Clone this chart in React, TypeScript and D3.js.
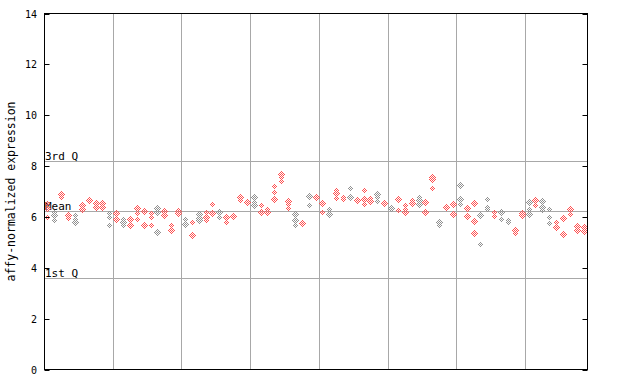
import React from "react";
import * as d3 from "d3";

const samples: number[][] = [
  [6.53, 6.37, 5.98],
  [6.19, 6.08, 6.05, 5.89],
  [6.91, 6.78],
  [6.08, 6.04, 5.96],
  [6.06, 5.93, 5.82],
  [6.45, 6.32],
  [6.69, 6.65],
  [6.54, 6.38],
  [6.54, 6.42, 6.38],
  [6.15, 5.99, 5.69],
  [6.15, 5.93],
  [5.93, 5.82, 5.69],
  [5.92, 5.88, 5.69],
  [6.36, 6.15, 5.93],
  [6.27, 6.23, 5.69],
  [6.15, 5.99, 5.69],
  [6.36, 6.19, 5.39],
  [6.25, 6.06],
  [5.69, 5.54, 5.5],
  [6.25, 6.14, 6.1],
  [5.93, 5.73],
  [5.82, 5.3],
  [6.1, 5.96, 5.86],
  [6.21, 5.99, 5.86],
  [6.49, 6.17],
  [6.21, 5.99],
  [6.01, 5.97, 5.81],
  [6.08, 6.04],
  [6.82, 6.78, 6.65],
  [6.59, 6.55],
  [6.8, 6.57, 6.45],
  [6.45, 6.21],
  [6.32, 6.25, 6.21],
  [7.2, 6.97, 6.71],
  [7.7, 7.56, 7.4],
  [6.61, 6.49, 6.34],
  [6.1, 5.89, 5.69],
  [5.77, 5.73],
  [6.84, 6.45],
  [6.78, 6.74],
  [6.56, 6.52, 6.21],
  [6.32, 6.1],
  [7.04, 6.93, 6.75],
  [6.78, 6.69],
  [7.14, 6.83, 6.79],
  [6.71, 6.67],
  [7.04, 6.71, 6.49],
  [6.75, 6.64, 6.6],
  [6.91, 6.78, 6.62],
  [6.56, 6.52],
  [6.4, 6.36],
  [6.71, 6.28],
  [6.45, 6.32, 6.19],
  [6.67, 6.56, 6.52],
  [6.8, 6.65, 6.52],
  [6.58, 6.21],
  [7.56, 7.48, 7.44, 7.14],
  [5.79, 5.7],
  [6.38, 6.34],
  [6.49, 6.12],
  [7.24, 6.71, 6.49],
  [6.36, 6.32, 6.04],
  [6.56, 5.85, 5.38],
  [6.09, 6.05, 4.94],
  [6.71, 6.38, 6.32],
  [6.19, 6.02],
  [6.21, 5.93],
  [5.89, 5.79],
  [5.53, 5.49, 5.36],
  [6.19, 6.15, 6.06],
  [6.59, 6.32, 6.1],
  [6.67, 6.63, 6.48],
  [6.63, 6.41, 6.28],
  [6.32, 5.99, 5.78],
  [5.79, 5.6],
  [6.01, 5.97, 5.34],
  [6.32, 6.28, 6.12],
  [5.64, 5.6, 5.49],
  [5.59, 5.55, 5.44],
];

const greySamples: number[] = [1, 4, 9, 11, 16, 20, 22, 25, 30, 36, 38, 41, 44, 48, 50, 54, 57, 60, 63, 64, 66, 67, 70, 72, 73];

const yTicks: number[] = [0, 2, 4, 6, 8, 10, 12, 14];
const refLines: { label: string; value: number }[] = [
  { label: "3rd Q", value: 8.19 },
  { label: "Mean", value: 6.22 },
  { label: "1st Q", value: 3.61 },
];
const groupSize = 10;

const W = 640;
const H = 384;
const left = 44.5;
const right = 587.5;
const top = 13.5;
const bottom = 369.5;
const font = "'DejaVu Sans Mono', monospace";

export default function App() {
  const n = samples.length;
  const x = d3.scaleLinear().domain([0, n]).range([left, right]);
  const y = d3.scaleLinear().domain([0, 14]).range([bottom, top]);
  const diamond = (cx: number, cy: number) =>
    `M${cx},${cy - 3.5}L${cx + 3.5},${cy}L${cx},${cy + 3.5}L${cx - 3.5},${cy}Z`;

  const boundaries = d3.range(groupSize, n, groupSize);

  return (
    <svg
      width={W}
      height={H}
      style={{ position: "absolute", left: 0, top: 0, background: "#fff" }}
    >
      <defs>
        <pattern id="pRed" patternUnits="userSpaceOnUse" width={2} height={2}>
          <rect x={0} y={0} width={1} height={1} fill="#ff5050" />
          <rect x={1} y={1} width={1} height={1} fill="#ff5050" />
        </pattern>
        <pattern id="pGrey" patternUnits="userSpaceOnUse" width={2} height={2}>
          <rect x={0} y={0} width={1} height={1} fill="#909090" />
          <rect x={1} y={1} width={1} height={1} fill="#909090" />
        </pattern>
      </defs>
      <rect x={0} y={0} width={W} height={H} fill="#fff" />
      {boundaries.map((b) => {
        const gx = Math.floor(x(b)) + 0.5;
        return (
          <line key={"g" + b} x1={gx} x2={gx} y1={top} y2={bottom} stroke="#a8a8a8" strokeWidth={1} />
        );
      })}
      {refLines.map((r) => {
        const ry = Math.round(y(r.value)) + 0.5;
        return (
          <g key={r.label}>
            <line x1={left} x2={right} y1={ry} y2={ry} stroke="#a8a8a8" strokeWidth={1} />
            <text x={left + 0.5} y={ry - 1.5} fontFamily={font} fontSize={11} fill="#000">
              {r.label}
            </text>
          </g>
        );
      })}
      {samples.map((vals, i) => {
        const cx = Math.floor(x(i + 0.5)) + 0.5;
        const fill = greySamples.includes(i) ? "url(#pGrey)" : "url(#pRed)";
        return (
          <g key={"s" + i}>
            {vals.map((v, j) => (
              <path
                key={j}
                d={diamond(cx, Math.round(y(v)) + 0.5)}
                fill={fill}
                shapeRendering="crispEdges"
              />
            ))}
          </g>
        );
      })}
      <rect
        x={left}
        y={top}
        width={right - left}
        height={bottom - top}
        fill="none"
        stroke="#000"
        strokeWidth={1}
      />
      {yTicks.map((t) => {
        const ty = Math.round(y(t)) + 0.5;
        return (
          <g key={"t" + t}>
            <line x1={left} x2={left + 5} y1={ty} y2={ty} stroke="#000" />
            <line x1={right - 5} x2={right} y1={ty} y2={ty} stroke="#000" />
            <text
              x={37}
              y={ty}
              dy="0.35em"
              textAnchor="end"
              fontFamily={font}
              fontSize={10}
              fill="#000"
            >
              {t}
            </text>
          </g>
        );
      })}
      <text
        transform={`translate(15,${(top + bottom) / 2}) rotate(-90)`}
        textAnchor="middle"
        fontFamily={font}
        fontSize={11.5}
        fill="#000"
      >
        affy-normalized expression
      </text>
    </svg>
  );
}
